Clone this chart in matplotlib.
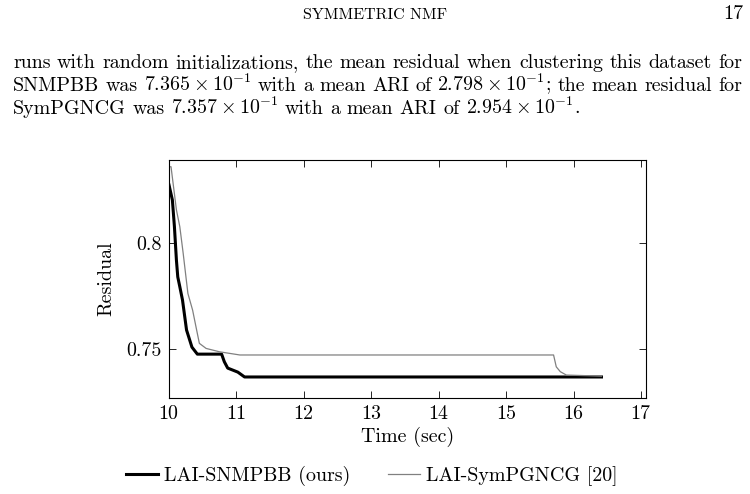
import matplotlib.pyplot as plt

plt.rcParams['font.family'] = ['cmr10', 'DejaVu Serif']
plt.rcParams['mathtext.fontset'] = 'cm'
plt.rcParams['axes.formatter.use_mathtext'] = True

# LAI-SNMPBB (ours)
snm_t = [10.0, 10.05, 10.08, 10.11, 10.13, 10.16, 10.2, 10.26, 10.34, 10.42, 10.78,
         10.82, 10.87, 11.02, 11.12, 16.41]
snm_r = [0.8276, 0.8205, 0.808, 0.792, 0.7841, 0.7795, 0.7732, 0.759, 0.7509, 0.7476, 0.7476,
         0.744, 0.741, 0.7391, 0.7368, 0.7368]

# LAI-SymPGNCG [20]
sym_t = [10.0, 10.03, 10.11, 10.16, 10.21, 10.28, 10.35, 10.40, 10.45, 10.55, 10.75, 11.05,
         15.70, 15.74, 15.80, 15.89, 16.41]
sym_r = [0.8362, 0.8362, 0.8158, 0.8079, 0.7953, 0.7763, 0.7684, 0.7605, 0.7527, 0.7503,
         0.7487, 0.7472, 0.7472, 0.7416, 0.7393, 0.7377, 0.7372]

xticks = [10, 11, 12, 13, 14, 15, 16, 17]
yticks = [0.75, 0.8]
ytick_labels = ['0.75', '0.8']

W, H = 750, 494
fig = plt.figure(figsize=(7.5, 4.94), dpi=100)
renderer = fig.canvas.get_renderer()

def justify(s, y, x0, x1, fs, full=True):
    # place words one by one so the line fills x0..x1 like a TeX paragraph
    words = s.split(' ')
    texts = [fig.text(0, 1 - y / H, w, fontsize=fs, va='baseline', ha='left') for w in words]
    widths = [t.get_window_extent(renderer).width for t in texts]
    space = (x1 - x0 - sum(widths)) / (len(words) - 1) if full else fs * 0.45
    x = x0
    for t, w in zip(texts, widths):
        t.set_x(x / W)
        x += w + space

fig.text(0.5, 1 - 19 / H, 'SYMMETRIC NMF', ha='center', va='baseline', fontsize=11.5)
fig.text(743 / W, 1 - 19 / H, '17', ha='right', va='baseline', fontsize=14.4)
lines = [
    'runs with random initializations, the mean residual when clustering this dataset for',
    r'SNMPBB was $7.365\times10^{-1}$ with a mean ARI of $2.798\times10^{-1}$; the mean residual for',
    r'SymPGNCG was $7.357\times10^{-1}$ with a mean ARI of $2.954\times10^{-1}$.',
]
justify(lines[0], 68, 13, 742, 14.4)
justify(lines[1], 91, 13, 742, 14.4)
justify(lines[2], 114, 13, 742, 14.4, full=False)

ax = fig.add_axes([169 / W, 1 - 397.7 / H, 477 / W, 237.7 / H])
ax.plot(snm_t, snm_r, color='black', lw=2.2, label='LAI-SNMPBB (ours)')
ax.plot(sym_t, sym_r, color='#808080', lw=0.9, label='LAI-SymPGNCG [20]')

ax.set_xlim(10.0, 17.07)
ax.set_ylim(0.727, 0.8394)
ax.set_xticks(xticks)
ax.set_yticks(yticks)
ax.set_yticklabels(ytick_labels)
ax.tick_params(direction='in', top=True, right=True, labelsize=14.4, length=5, width=0.6, pad=5)
for sp in ax.spines.values():
    sp.set_linewidth(0.8)
ax.set_xlabel('Time (sec)', fontsize=14.4, labelpad=3)
ax.set_ylabel('Residual', fontsize=14.4, labelpad=8)

fig.legend(loc='center', bbox_to_anchor=(372 / W, 1 - 476 / H), ncol=2, frameon=False,
           fontsize=14.4, handlelength=1.6, handletextpad=0.3, columnspacing=1.9,
           borderpad=0, borderaxespad=0)

fig.savefig('out.png', dpi=100)
